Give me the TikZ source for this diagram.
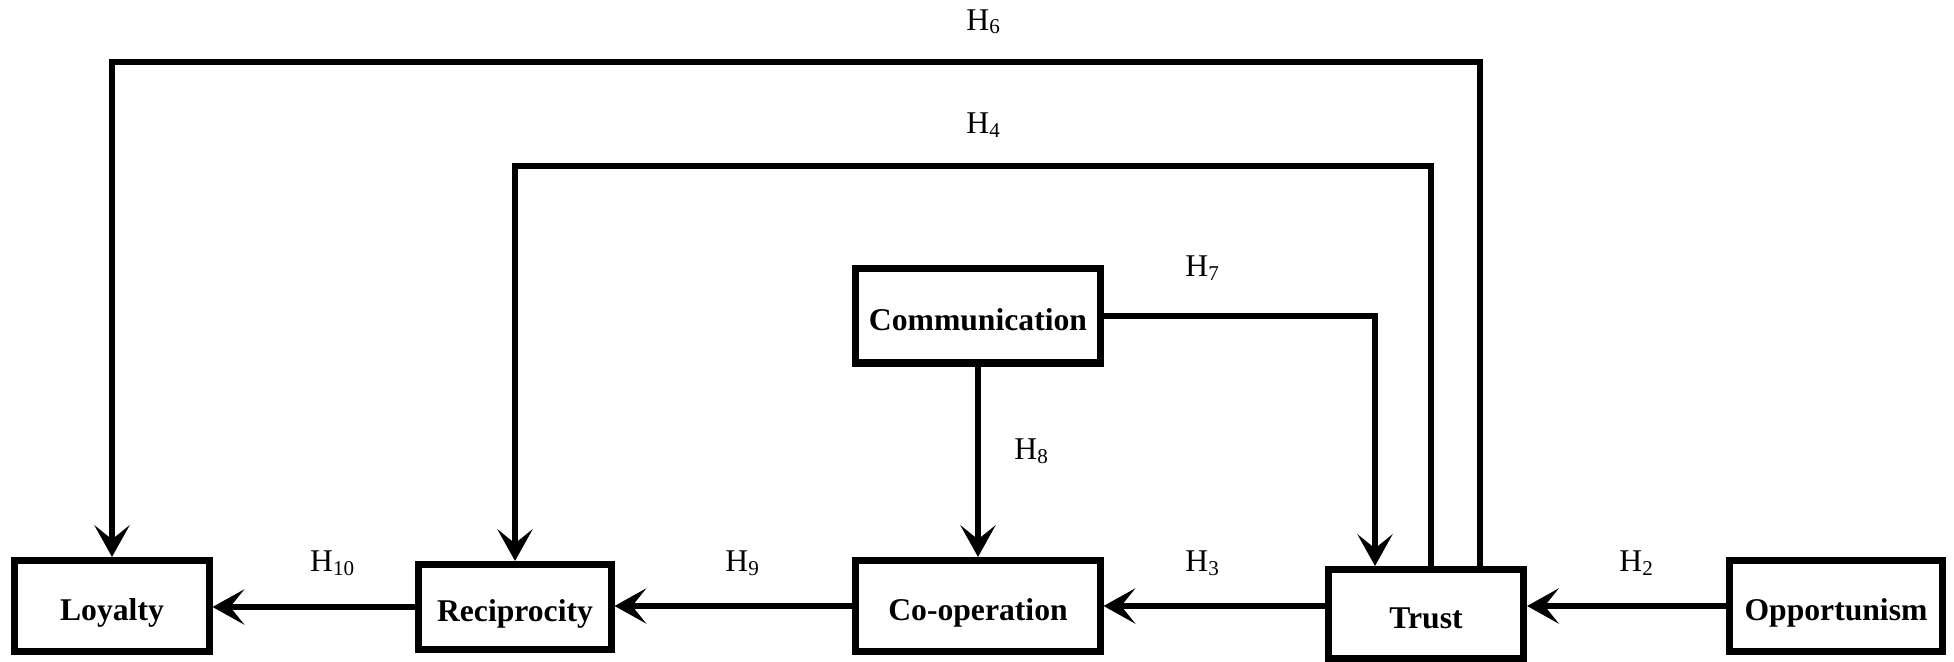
\documentclass[tikz,border=0pt]{standalone}
\usepackage{fontspec}
\setmainfont{Liberation Serif}
\usetikzlibrary{arrows.meta}
\tikzset{
  var/.style={draw, line width=2pt, inner sep=0pt, text height=1em, text depth=.15em, font=\fontsize{9}{11}\selectfont\bfseries},
  hyp/.style={font=\fontsize{9}{11}\selectfont},
  link/.style={line width=1.5pt, -{Stealth[length=9pt,width=10pt,inset=4pt]}}
}
\begin{document}
\begin{tikzpicture}[x=0.01cm,y=-0.01cm]
\useasboundingbox (0,0) rectangle (1954,662);

\node[var, minimum width=1.94cm, minimum height=0.91cm] (loy) at (112,606) {Loyalty};
\node[var, minimum width=1.92cm, minimum height=0.85cm] (rec) at (515,607) {Reciprocity};
\node[var, minimum width=2.44cm, minimum height=0.91cm] (coop) at (978,606) {Co-operation};
\node[var, minimum width=1.95cm, minimum height=0.89cm] (trust) at (1426,614) {Trust};
\node[var, minimum width=2.12cm, minimum height=0.91cm] (opp) at (1836,606) {Opportunism};
\node[var, minimum width=2.44cm, minimum height=0.94cm] (comm) at (978,316) {Communication};

\coordinate (h6) at (1480,62);
\coordinate (h4) at (1431,166);
\coordinate (h7) at (1375,314);

\draw[link] (opp.west) -- (opp.west -| trust.east);
\node[hyp] (l2) at (1637,563) {H\textsubscript{2}};
\draw[link] (trust.west |- coop.east) -- (coop.east);
\node[hyp] (l3) at (1203,563) {H\textsubscript{3}};
\draw[link] (coop.west) -- (coop.west -| rec.east);
\node[hyp] (l9) at (743,563) {H\textsubscript{9}};
\draw[link] (rec.west) -- (rec.west -| loy.east);
\node[hyp] (l10) at (333,563) {H\textsubscript{10}};
\draw[link] (comm.south) -- (coop.north);
\node[hyp] (l8) at (1032,451) {H\textsubscript{8}};
\draw[link] (comm.east) -- (comm.east -| h7) -- (h7 |- trust.north);
\node[hyp] (l7) at (1203,268) {H\textsubscript{7}};
\draw[link] (h4 |- trust.north) -- (h4) -- (rec.north |- h4) -- (rec.north);
\node[hyp] (l4) at (984,125) {H\textsubscript{4}};
\draw[link] (h6 |- trust.north) -- (h6) -- (loy.north |- h6) -- (loy.north);
\node[hyp] (l6) at (984,22) {H\textsubscript{6}};
\end{tikzpicture}
\end{document}
